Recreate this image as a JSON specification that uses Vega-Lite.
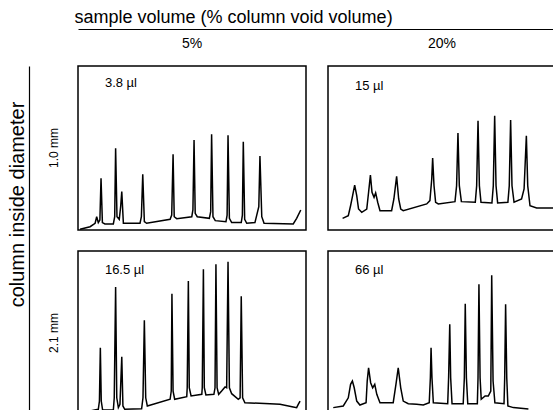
{
  "$schema": "https://vega.github.io/schema/vega-lite/v6.json",
  "padding": {"left": 7, "top": 8, "right": 0, "bottom": 0},
  "background": "white",
  "config": {
    "font": "Liberation Sans",
    "view": {"stroke": "black", "strokeWidth": 1.5},
    "axis": {"labelColor": "black", "titleColor": "black"}
  },
  "datasets": {
    "curves": [
      {"d":"1.0 mm","v":"5%","t":0.9,"s":0.4},{"d":"1.0 mm","v":"5%","t":5.3,"s":2.0},{"d":"1.0 mm","v":"5%","t":7.5,"s":4.1},{"d":"1.0 mm","v":"5%","t":8.2,"s":8.1},{"d":"1.0 mm","v":"5%","t":8.9,"s":4.5},{"d":"1.0 mm","v":"5%","t":9.6,"s":6.1},{"d":"1.0 mm","v":"5%","t":10.1,"s":31.5},{"d":"1.0 mm","v":"5%","t":10.7,"s":4.5},{"d":"1.0 mm","v":"5%","t":11.8,"s":3.7},{"d":"1.0 mm","v":"5%","t":15.5,"s":3.7},{"d":"1.0 mm","v":"5%","t":16.1,"s":8.1},{"d":"1.0 mm","v":"5%","t":16.5,"s":49.8},{"d":"1.0 mm","v":"5%","t":17.1,"s":8.1},{"d":"1.0 mm","v":"5%","t":18.1,"s":6.5},{"d":"1.0 mm","v":"5%","t":18.7,"s":14.2},{"d":"1.0 mm","v":"5%","t":19.2,"s":23.4},{"d":"1.0 mm","v":"5%","t":19.9,"s":4.1},{"d":"1.0 mm","v":"5%","t":27.2,"s":4.1},{"d":"1.0 mm","v":"5%","t":27.8,"s":8.1},{"d":"1.0 mm","v":"5%","t":28.4,"s":34.0},{"d":"1.0 mm","v":"5%","t":29.1,"s":5.1},{"d":"1.0 mm","v":"5%","t":30.1,"s":4.1},{"d":"1.0 mm","v":"5%","t":40.4,"s":6.5},{"d":"1.0 mm","v":"5%","t":41.1,"s":9.1},{"d":"1.0 mm","v":"5%","t":41.7,"s":46.2},{"d":"1.0 mm","v":"5%","t":42.2,"s":8.1},{"d":"1.0 mm","v":"5%","t":43.3,"s":6.9},{"d":"1.0 mm","v":"5%","t":49.9,"s":8.1},{"d":"1.0 mm","v":"5%","t":50.4,"s":12.2},{"d":"1.0 mm","v":"5%","t":50.9,"s":54.9},{"d":"1.0 mm","v":"5%","t":51.4,"s":10.2},{"d":"1.0 mm","v":"5%","t":52.3,"s":8.1},{"d":"1.0 mm","v":"5%","t":57.6,"s":7.1},{"d":"1.0 mm","v":"5%","t":58.2,"s":11.2},{"d":"1.0 mm","v":"5%","t":58.6,"s":58.4},{"d":"1.0 mm","v":"5%","t":59.2,"s":8.1},{"d":"1.0 mm","v":"5%","t":60.2,"s":5.7},{"d":"1.0 mm","v":"5%","t":64.9,"s":5.1},{"d":"1.0 mm","v":"5%","t":65.4,"s":9.1},{"d":"1.0 mm","v":"5%","t":65.8,"s":57.7},{"d":"1.0 mm","v":"5%","t":66.4,"s":7.1},{"d":"1.0 mm","v":"5%","t":67.4,"s":4.5},{"d":"1.0 mm","v":"5%","t":71.6,"s":4.5},{"d":"1.0 mm","v":"5%","t":72.1,"s":9.1},{"d":"1.0 mm","v":"5%","t":72.5,"s":53.8},{"d":"1.0 mm","v":"5%","t":73.1,"s":6.5},{"d":"1.0 mm","v":"5%","t":74.0,"s":4.1},{"d":"1.0 mm","v":"5%","t":77.6,"s":4.5},{"d":"1.0 mm","v":"5%","t":78.4,"s":9.1},{"d":"1.0 mm","v":"5%","t":79.3,"s":14.2},{"d":"1.0 mm","v":"5%","t":79.8,"s":45.1},{"d":"1.0 mm","v":"5%","t":80.6,"s":8.1},{"d":"1.0 mm","v":"5%","t":81.6,"s":4.1},{"d":"1.0 mm","v":"5%","t":94.4,"s":3.7},{"d":"1.0 mm","v":"5%","t":95.9,"s":7.1},{"d":"1.0 mm","v":"5%","t":97.7,"s":12.2},
      {"d":"1.0 mm","v":"20%","t":6.4,"s":7.1},{"d":"1.0 mm","v":"20%","t":8.9,"s":8.7},{"d":"1.0 mm","v":"20%","t":9.9,"s":14.8},{"d":"1.0 mm","v":"20%","t":10.8,"s":20.9},{"d":"1.0 mm","v":"20%","t":11.7,"s":27.4},{"d":"1.0 mm","v":"20%","t":12.6,"s":20.9},{"d":"1.0 mm","v":"20%","t":13.4,"s":12.8},{"d":"1.0 mm","v":"20%","t":14.8,"s":10.8},{"d":"1.0 mm","v":"20%","t":17.0,"s":12.8},{"d":"1.0 mm","v":"20%","t":17.8,"s":23.0},{"d":"1.0 mm","v":"20%","t":18.6,"s":33.5},{"d":"1.0 mm","v":"20%","t":19.3,"s":23.0},{"d":"1.0 mm","v":"20%","t":20.2,"s":19.9},{"d":"1.0 mm","v":"20%","t":20.9,"s":22.6},{"d":"1.0 mm","v":"20%","t":21.8,"s":16.9},{"d":"1.0 mm","v":"20%","t":22.8,"s":11.8},{"d":"1.0 mm","v":"20%","t":27.9,"s":11.8},{"d":"1.0 mm","v":"20%","t":28.9,"s":18.9},{"d":"1.0 mm","v":"20%","t":30.1,"s":32.7},{"d":"1.0 mm","v":"20%","t":31.0,"s":18.9},{"d":"1.0 mm","v":"20%","t":31.9,"s":12.8},{"d":"1.0 mm","v":"20%","t":33.0,"s":11.8},{"d":"1.0 mm","v":"20%","t":43.3,"s":15.9},{"d":"1.0 mm","v":"20%","t":44.7,"s":17.9},{"d":"1.0 mm","v":"20%","t":45.5,"s":31.1},{"d":"1.0 mm","v":"20%","t":45.9,"s":43.9},{"d":"1.0 mm","v":"20%","t":46.5,"s":27.0},{"d":"1.0 mm","v":"20%","t":47.2,"s":16.9},{"d":"1.0 mm","v":"20%","t":48.4,"s":15.9},{"d":"1.0 mm","v":"20%","t":55.7,"s":17.3},{"d":"1.0 mm","v":"20%","t":56.4,"s":27.0},{"d":"1.0 mm","v":"20%","t":57.0,"s":59.1},{"d":"1.0 mm","v":"20%","t":57.6,"s":27.0},{"d":"1.0 mm","v":"20%","t":58.5,"s":17.3},{"d":"1.0 mm","v":"20%","t":64.6,"s":16.9},{"d":"1.0 mm","v":"20%","t":65.2,"s":27.0},{"d":"1.0 mm","v":"20%","t":65.8,"s":66.6},{"d":"1.0 mm","v":"20%","t":66.4,"s":27.0},{"d":"1.0 mm","v":"20%","t":67.1,"s":16.9},{"d":"1.0 mm","v":"20%","t":71.9,"s":16.5},{"d":"1.0 mm","v":"20%","t":72.5,"s":27.0},{"d":"1.0 mm","v":"20%","t":73.1,"s":69.7},{"d":"1.0 mm","v":"20%","t":73.7,"s":27.0},{"d":"1.0 mm","v":"20%","t":74.4,"s":16.5},{"d":"1.0 mm","v":"20%","t":78.9,"s":16.9},{"d":"1.0 mm","v":"20%","t":79.5,"s":27.0},{"d":"1.0 mm","v":"20%","t":80.1,"s":67.1},{"d":"1.0 mm","v":"20%","t":80.7,"s":27.0},{"d":"1.0 mm","v":"20%","t":81.6,"s":16.9},{"d":"1.0 mm","v":"20%","t":84.9,"s":18.9},{"d":"1.0 mm","v":"20%","t":86.0,"s":25.0},{"d":"1.0 mm","v":"20%","t":87.0,"s":57.5},{"d":"1.0 mm","v":"20%","t":87.6,"s":27.0},{"d":"1.0 mm","v":"20%","t":88.6,"s":14.8},{"d":"1.0 mm","v":"20%","t":91.5,"s":13.4},{"d":"1.0 mm","v":"20%","t":98.7,"s":13.4},
      {"d":"2.1 mm","v":"5%","t":5.3,"s":2.4},{"d":"2.1 mm","v":"5%","t":8.9,"s":3.5},{"d":"2.1 mm","v":"5%","t":9.4,"s":8.5},{"d":"2.1 mm","v":"5%","t":9.8,"s":41.0},{"d":"2.1 mm","v":"5%","t":10.2,"s":8.5},{"d":"2.1 mm","v":"5%","t":10.8,"s":3.0},{"d":"2.1 mm","v":"5%","t":15.5,"s":3.0},{"d":"2.1 mm","v":"5%","t":15.9,"s":10.5},{"d":"2.1 mm","v":"5%","t":16.5,"s":78.0},{"d":"2.1 mm","v":"5%","t":17.0,"s":10.5},{"d":"2.1 mm","v":"5%","t":17.7,"s":4.5},{"d":"2.1 mm","v":"5%","t":18.4,"s":6.5},{"d":"2.1 mm","v":"5%","t":19.2,"s":35.5},{"d":"2.1 mm","v":"5%","t":19.7,"s":5.5},{"d":"2.1 mm","v":"5%","t":20.5,"s":3.5},{"d":"2.1 mm","v":"5%","t":27.9,"s":3.8},{"d":"2.1 mm","v":"5%","t":28.5,"s":10.5},{"d":"2.1 mm","v":"5%","t":29.1,"s":57.7},{"d":"2.1 mm","v":"5%","t":29.7,"s":10.5},{"d":"2.1 mm","v":"5%","t":30.4,"s":5.5},{"d":"2.1 mm","v":"5%","t":40.4,"s":9.6},{"d":"2.1 mm","v":"5%","t":40.9,"s":14.6},{"d":"2.1 mm","v":"5%","t":41.2,"s":74.0},{"d":"2.1 mm","v":"5%","t":41.7,"s":14.6},{"d":"2.1 mm","v":"5%","t":42.4,"s":9.6},{"d":"2.1 mm","v":"5%","t":47.7,"s":11.2},{"d":"2.1 mm","v":"5%","t":47.9,"s":16.6},{"d":"2.1 mm","v":"5%","t":48.4,"s":81.7},{"d":"2.1 mm","v":"5%","t":48.8,"s":16.6},{"d":"2.1 mm","v":"5%","t":49.6,"s":11.6},{"d":"2.1 mm","v":"5%","t":54.3,"s":12.6},{"d":"2.1 mm","v":"5%","t":54.5,"s":16.6},{"d":"2.1 mm","v":"5%","t":55.0,"s":88.8},{"d":"2.1 mm","v":"5%","t":55.4,"s":16.6},{"d":"2.1 mm","v":"5%","t":56.1,"s":12.2},{"d":"2.1 mm","v":"5%","t":59.6,"s":12.6},{"d":"2.1 mm","v":"5%","t":60.1,"s":16.6},{"d":"2.1 mm","v":"5%","t":60.5,"s":91.9},{"d":"2.1 mm","v":"5%","t":61.0,"s":16.6},{"d":"2.1 mm","v":"5%","t":61.7,"s":12.6},{"d":"2.1 mm","v":"5%","t":63.0,"s":14.6},{"d":"2.1 mm","v":"5%","t":64.5,"s":17.1},{"d":"2.1 mm","v":"5%","t":65.2,"s":16.6},{"d":"2.1 mm","v":"5%","t":65.8,"s":93.5},{"d":"2.1 mm","v":"5%","t":66.4,"s":16.6},{"d":"2.1 mm","v":"5%","t":67.4,"s":13.0},{"d":"2.1 mm","v":"5%","t":70.3,"s":9.6},{"d":"2.1 mm","v":"5%","t":71.1,"s":10.5},{"d":"2.1 mm","v":"5%","t":71.6,"s":72.4},{"d":"2.1 mm","v":"5%","t":72.2,"s":10.5},{"d":"2.1 mm","v":"5%","t":73.2,"s":7.5},{"d":"2.1 mm","v":"5%","t":84.2,"s":6.9},{"d":"2.1 mm","v":"5%","t":88.6,"s":6.5},{"d":"2.1 mm","v":"5%","t":94.4,"s":4.9},{"d":"2.1 mm","v":"5%","t":95.9,"s":4.5},{"d":"2.1 mm","v":"5%","t":96.6,"s":6.5},{"d":"2.1 mm","v":"5%","t":97.4,"s":8.5},
      {"d":"2.1 mm","v":"20%","t":2.3,"s":4.5},{"d":"2.1 mm","v":"20%","t":6.7,"s":5.5},{"d":"2.1 mm","v":"20%","t":8.9,"s":10.5},{"d":"2.1 mm","v":"20%","t":9.9,"s":18.7},{"d":"2.1 mm","v":"20%","t":10.7,"s":20.7},{"d":"2.1 mm","v":"20%","t":11.5,"s":16.6},{"d":"2.1 mm","v":"20%","t":12.6,"s":8.5},{"d":"2.1 mm","v":"20%","t":14.0,"s":6.1},{"d":"2.1 mm","v":"20%","t":16.7,"s":7.5},{"d":"2.1 mm","v":"20%","t":17.2,"s":20.7},{"d":"2.1 mm","v":"20%","t":17.8,"s":28.8},{"d":"2.1 mm","v":"20%","t":18.7,"s":19.7},{"d":"2.1 mm","v":"20%","t":19.6,"s":16.6},{"d":"2.1 mm","v":"20%","t":20.5,"s":18.7},{"d":"2.1 mm","v":"20%","t":21.4,"s":12.6},{"d":"2.1 mm","v":"20%","t":22.8,"s":7.5},{"d":"2.1 mm","v":"20%","t":28.6,"s":7.5},{"d":"2.1 mm","v":"20%","t":29.8,"s":18.7},{"d":"2.1 mm","v":"20%","t":30.8,"s":28.8},{"d":"2.1 mm","v":"20%","t":31.9,"s":16.6},{"d":"2.1 mm","v":"20%","t":33.0,"s":8.5},{"d":"2.1 mm","v":"20%","t":35.2,"s":6.9},{"d":"2.1 mm","v":"20%","t":38.9,"s":6.5},{"d":"2.1 mm","v":"20%","t":41.8,"s":6.1},{"d":"2.1 mm","v":"20%","t":44.4,"s":7.5},{"d":"2.1 mm","v":"20%","t":44.9,"s":22.7},{"d":"2.1 mm","v":"20%","t":45.2,"s":41.0},{"d":"2.1 mm","v":"20%","t":45.6,"s":22.7},{"d":"2.1 mm","v":"20%","t":46.2,"s":7.5},{"d":"2.1 mm","v":"20%","t":52.5,"s":6.9},{"d":"2.1 mm","v":"20%","t":52.9,"s":22.7},{"d":"2.1 mm","v":"20%","t":53.4,"s":55.3},{"d":"2.1 mm","v":"20%","t":53.8,"s":22.7},{"d":"2.1 mm","v":"20%","t":54.4,"s":6.9},{"d":"2.1 mm","v":"20%","t":59.3,"s":6.9},{"d":"2.1 mm","v":"20%","t":59.8,"s":22.7},{"d":"2.1 mm","v":"20%","t":60.2,"s":67.9},{"d":"2.1 mm","v":"20%","t":60.7,"s":22.7},{"d":"2.1 mm","v":"20%","t":61.3,"s":6.9},{"d":"2.1 mm","v":"20%","t":65.5,"s":6.9},{"d":"2.1 mm","v":"20%","t":65.8,"s":22.7},{"d":"2.1 mm","v":"20%","t":66.2,"s":79.7},{"d":"2.1 mm","v":"20%","t":66.7,"s":22.7},{"d":"2.1 mm","v":"20%","t":67.2,"s":9.6},{"d":"2.1 mm","v":"20%","t":68.9,"s":11.6},{"d":"2.1 mm","v":"20%","t":70.3,"s":11.6},{"d":"2.1 mm","v":"20%","t":71.4,"s":14.6},{"d":"2.1 mm","v":"20%","t":71.8,"s":85.2},{"d":"2.1 mm","v":"20%","t":72.4,"s":20.7},{"d":"2.1 mm","v":"20%","t":73.2,"s":7.5},{"d":"2.1 mm","v":"20%","t":77.2,"s":6.9},{"d":"2.1 mm","v":"20%","t":77.5,"s":22.7},{"d":"2.1 mm","v":"20%","t":77.9,"s":67.5},{"d":"2.1 mm","v":"20%","t":78.4,"s":22.7},{"d":"2.1 mm","v":"20%","t":78.9,"s":5.5},{"d":"2.1 mm","v":"20%","t":81.3,"s":4.5},{"d":"2.1 mm","v":"20%","t":87.9,"s":3.7},
      {"d":"1.0 mm","v":"5%","t":11.8,"s":87.2,"label":"3.8 µl"},
      {"d":"1.0 mm","v":"20%","t":11.8,"s":85.4,"label":"15 µl"},
      {"d":"2.1 mm","v":"5%","t":11.8,"s":86.0,"label":"16.5 µl"},
      {"d":"2.1 mm","v":"20%","t":11.8,"s":86.0,"label":"66 µl"}
    ]
  },
  "columns": 2,
  "spacing": {"row": 4, "column": 15},
  "resolve": {"scale": {"x": "independent", "y": "independent"}},
  "concat": [
    {
      "width": 1, "height": 1,
      "view": {"stroke": null},
      "data": {"values": []},
      "mark": "point"
    },
    {
      "width": 481, "height": 1,
      "view": {"stroke": null},
      "data": {"values": [{"k": 0}, {"k": 1}]},
      "mark": {"type": "point", "opacity": 0},
      "encoding": {
        "x": {"field": "k", "type": "quantitative",
          "axis": {"orient": "top", "title": "sample volume (% column void volume)", "ticks": false, "labels": false, "grid": false,
            "domainColor": "black", "domainWidth": 1.2, "titleAnchor": "start", "titleAlign": "left", "titleX": -4,
            "titleFontSize": 18, "titleFontWeight": "normal", "titlePadding": 3}}
      }
    },
    {
      "width": 1, "height": 347,
      "view": {"stroke": null},
      "data": {"values": [{"k": 0}, {"k": 1}]},
      "mark": {"type": "point", "opacity": 0},
      "encoding": {
        "y": {"field": "k", "type": "quantitative",
          "axis": {"orient": "left", "title": "column inside diameter", "ticks": false, "labels": false, "grid": false,
            "domainColor": "black", "domainWidth": 1.2, "titleY": 138,
            "titleFontSize": 20, "titleFontWeight": "normal", "titlePadding": 2}}
      }
    },
    {
      "data": {"name": "curves"},
      "facet": {
        "row": {"field": "d", "type": "nominal", "sort": ["1.0 mm", "2.1 mm"],
          "header": {"title": null, "labelAngle": -90, "labelOrient": "left", "labelFontSize": 12, "labelPadding": 10, "labelColor": "black"}},
        "column": {"field": "v", "type": "nominal", "sort": ["5%", "20%"],
          "header": {"title": null, "labelFontSize": 14, "labelPadding": 14, "labelColor": "black"}}
      },
      "spacing": {"row": 16, "column": 20},
      "spec": {
        "width": 228, "height": 164,
        "layer": [
          {
            "transform": [{"filter": "!datum.label"}],
            "mark": {"type": "line", "color": "black", "strokeWidth": 1.5},
            "encoding": {
              "x": {"field": "t", "type": "quantitative", "scale": {"domain": [0, 100]}, "axis": null},
              "y": {"field": "s", "type": "quantitative", "scale": {"domain": [0, 100]}, "axis": null}
            }
          },
          {
            "transform": [{"filter": "datum.label"}],
            "mark": {"type": "text", "align": "left", "baseline": "alphabetic", "fontSize": 13, "color": "black"},
            "encoding": {
              "x": {"field": "t", "type": "quantitative"},
              "y": {"field": "s", "type": "quantitative"},
              "text": {"field": "label"}
            }
          }
        ]
      }
    }
  ]
}
